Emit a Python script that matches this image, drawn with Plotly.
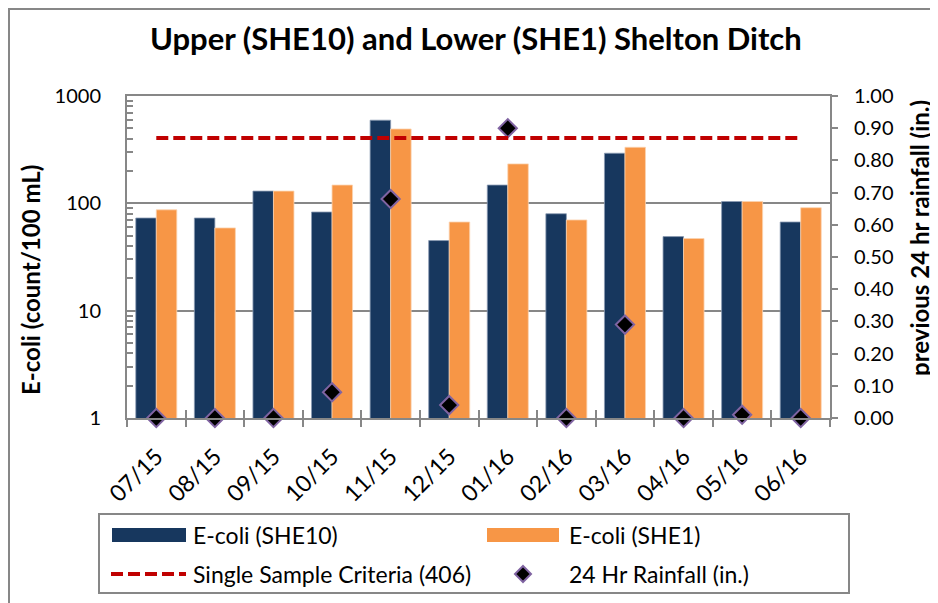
import plotly.graph_objects as go

# ---- data ----
months = ["07/15", "08/15", "09/15", "10/15", "11/15", "12/15",
          "01/16", "02/16", "03/16", "04/16", "05/16", "06/16"]
ecoli_she10 = [73, 73, 130, 83, 595, 45, 148, 80, 293, 49, 104, 67]
ecoli_she1 = [87, 59, 130, 148, 493, 67, 233, 70, 333, 47, 104, 91]
rainfall_24hr = [0.00, 0.00, 0.00, 0.08, 0.68, 0.04, 0.90, 0.00, 0.29, 0.00, 0.01, 0.00]
criteria_value = 406
criteria = [criteria_value] * len(months)
y2_ticks = [i / 10 for i in range(11)]

FONT = "Lato, 'Open Sans', sans-serif"
GRAY = "#878787"
NAVY = "#17375e"
ORANGE = "#f79646"
RED = "#c00000"
PURPLE = "#8064a2"

OFF = 8                      # page body margin
W, H = 938 - OFF, 603 - OFF
X0, X1, Y0, Y1 = 127, 830, 96, 418  # plot area in page pixels


def px(x):
    return (x - X0) / (X1 - X0)


def py(y):
    return (Y1 - y) / (Y1 - Y0)


fig = go.Figure()
fig.add_trace(go.Bar(x=months, y=ecoli_she10, name="E-coli (SHE10)",
                     marker=dict(color=NAVY, line=dict(color="#8a9bb3", width=0.8)),
                     showlegend=False))
fig.add_trace(go.Bar(x=months, y=ecoli_she1, name="E-coli (SHE1)",
                     marker=dict(color=ORANGE, line=dict(color="#fbd3b0", width=0.8)),
                     showlegend=False))
fig.add_trace(go.Scatter(x=months, y=criteria, name="Single Sample Criteria (406)",
                         mode="lines", xaxis="x2", yaxis="y",
                         line=dict(color=RED, width=4, dash="12px,5px"),
                         showlegend=False))
fig.add_trace(go.Scatter(x=months, y=rainfall_24hr, name="24 Hr Rainfall (in.)",
                         mode="markers", yaxis="y2", cliponaxis=False,
                         marker=dict(symbol="diamond", size=14, color="black",
                                     line=dict(color=PURPLE, width=2)),
                         showlegend=False))

cat_range = [-0.5, len(months) - 0.5]
fig.update_layout(
    width=W, height=H,
    margin=dict(l=X0 - OFF, r=938 - X1, t=Y0 - OFF, b=603 - Y1, pad=0),
    paper_bgcolor="white", plot_bgcolor="white",
    font=dict(family=FONT, color="black", size=19),
    barmode="group", bargap=0.3, bargroupgap=0.0,
    showlegend=False,
    xaxis=dict(type="category", categoryarray=months, range=cat_range,
               showline=True, linecolor=GRAY, linewidth=2, mirror=True,
               ticks="outside", ticklen=7, tickwidth=2, tickcolor=GRAY,
               tickson="boundaries", tickangle=-45,
               tickfont=dict(size=23), ticklabelstandoff=14, showgrid=False),
    xaxis2=dict(type="category", categoryarray=months, range=cat_range,
                overlaying="x", matches="x", showticklabels=False,
                ticks="inside", ticklen=8, tickwidth=2, tickcolor=GRAY,
                tickson="boundaries", showgrid=False, showline=False),
    yaxis=dict(type="log", range=[0, 3], dtick=1,
               showline=True, linecolor=GRAY, linewidth=2,
               ticks="inside", ticklen=8, tickwidth=2, tickcolor=GRAY,
               minor=dict(ticks="inside", ticklen=6, tickwidth=1.5,
                          tickcolor=GRAY, dtick="D1", showgrid=False),
               showgrid=True, gridcolor=GRAY, gridwidth=1.5,
               tickfont=dict(size=20), ticklabelstandoff=20),
    yaxis2=dict(overlaying="y", side="right", range=[0, 1],
                tickvals=y2_ticks, tickformat=".2f",
                showline=True, linecolor=GRAY, linewidth=2,
                ticks="outside", ticklen=6, tickwidth=2, tickcolor=GRAY,
                showgrid=False, tickfont=dict(size=20), ticklabelstandoff=12),
)

# title and axis titles
fig.add_annotation(text="<b>Upper (SHE10) and Lower (SHE1) Shelton Ditch</b>",
                   xref="paper", yref="paper", x=px(476), y=py(38),
                   xanchor="center", yanchor="middle", showarrow=False,
                   font=dict(size=31))
fig.add_annotation(text="<b>E-coli (count/100 mL)</b>", textangle=-90,
                   xref="paper", yref="paper", x=px(30), y=py(280),
                   xanchor="center", yanchor="middle", showarrow=False,
                   font=dict(size=24))
fig.add_annotation(text="<b>previous 24 hr rainfall (in.)</b>", textangle=-90,
                   xref="paper", yref="paper", x=px(919), y=py(238),
                   xanchor="center", yanchor="middle", showarrow=False,
                   font=dict(size=24))

shapes = []
# outer chart border
shapes.append(dict(type="rect", xref="paper", yref="paper",
                   x0=px(9), x1=px(960), y0=py(9), y1=py(640),
                   line=dict(color=GRAY, width=2), fillcolor="rgba(0,0,0,0)"))
# legend box
shapes.append(dict(type="rect", xref="paper", yref="paper",
                   x0=px(99), x1=px(849), y0=py(514), y1=py(593),
                   line=dict(color=GRAY, width=2), fillcolor="white"))
shapes.append(dict(type="rect", xref="paper", yref="paper",
                   x0=px(112), x1=px(186), y0=py(528), y1=py(542),
                   line=dict(width=0), fillcolor=NAVY))
shapes.append(dict(type="rect", xref="paper", yref="paper",
                   x0=px(487), x1=px(559), y0=py(528), y1=py(542),
                   line=dict(width=0), fillcolor=ORANGE))
shapes.append(dict(type="line", xref="paper", yref="paper",
                   x0=px(111), x1=px(186), y0=py(574), y1=py(574),
                   line=dict(color=RED, width=4, dash="12px,5px")))
cx, cy, r = 523, 574, 8
path = "M {},{} L {},{} L {},{} L {},{} Z".format(
    px(cx), py(cy - r), px(cx + r), py(cy), px(cx), py(cy + r), px(cx - r), py(cy))
shapes.append(dict(type="path", xref="paper", yref="paper", path=path,
                   fillcolor="black", line=dict(color=PURPLE, width=2)))
fig.update_layout(shapes=shapes)

for text, x, y in [("E-coli (SHE10)", 191, 535),
                   ("Single Sample Criteria (406)", 191, 574),
                   ("E-coli (SHE1)", 567, 535),
                   ("24 Hr Rainfall (in.)", 567, 574)]:
    fig.add_annotation(text=text, xref="paper", yref="paper", x=px(x), y=py(y),
                       xanchor="left", yanchor="middle", showarrow=False,
                       font=dict(size=23))

fig.write_html("out.html")
